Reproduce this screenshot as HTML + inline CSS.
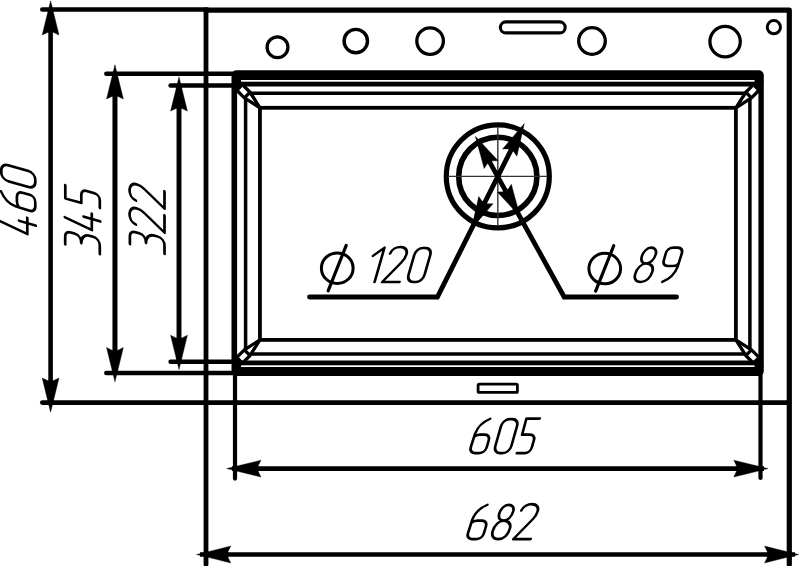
<!DOCTYPE html>
<html><head><meta charset="utf-8"><style>
html,body{margin:0;padding:0;background:#fff;width:800px;height:566px;overflow:hidden;font-family:"Liberation Sans",sans-serif}
svg{display:block}
</style></head><body>
<svg width="800" height="566" viewBox="0 0 800 566" stroke="#000" fill="none" role="img" aria-label="Sink drawing: 460, 345, 322, 605, 682, diameter 120, diameter 89">
<line x1="42.30" y1="9.40" x2="207.00" y2="9.40" stroke-width="4.5" stroke-linecap="round"/>
<polyline points="206.00,10.20 789.30,10.20 789.30,564.50" fill="none" stroke-width="5.2" stroke-linecap="round" stroke-linejoin="round"/>
<line x1="206.00" y1="10.00" x2="206.00" y2="564.50" stroke-width="4.8" stroke-linecap="round"/>
<line x1="42.30" y1="402.60" x2="789.30" y2="402.60" stroke-width="4.7" stroke-linecap="round"/>
<line x1="50.60" y1="9.00" x2="50.60" y2="403.00" stroke-width="4.6" stroke-linecap="butt"/>
<polygon points="50.60,0.80 55.22,19.61 59.00,35.00 53.60,32.40 47.60,32.40 42.20,35.00 45.98,19.61" fill="#000" stroke="#000" stroke-width="0.4" stroke-linejoin="round"/>
<polygon points="50.60,412.20 45.98,393.39 42.20,378.00 47.60,380.60 53.60,380.60 59.00,378.00 55.22,393.39" fill="#000" stroke="#000" stroke-width="0.4" stroke-linejoin="round"/>
<line x1="106.30" y1="73.80" x2="236.00" y2="73.80" stroke-width="4.5" stroke-linecap="round"/>
<line x1="106.30" y1="373.10" x2="236.00" y2="373.10" stroke-width="4.5" stroke-linecap="round"/>
<line x1="114.95" y1="74.00" x2="114.95" y2="373.00" stroke-width="5.0" stroke-linecap="butt"/>
<polygon points="114.95,64.80 119.57,83.61 123.35,99.00 117.95,96.40 111.95,96.40 106.55,99.00 110.33,83.61" fill="#000" stroke="#000" stroke-width="0.4" stroke-linejoin="round"/>
<polygon points="114.95,381.80 110.33,362.99 106.55,347.60 111.95,350.20 117.95,350.20 123.35,347.60 119.57,362.99" fill="#000" stroke="#000" stroke-width="0.4" stroke-linejoin="round"/>
<line x1="170.60" y1="85.40" x2="240.00" y2="85.40" stroke-width="4.5" stroke-linecap="round"/>
<line x1="170.60" y1="361.70" x2="240.00" y2="361.70" stroke-width="4.5" stroke-linecap="round"/>
<line x1="179.00" y1="85.00" x2="179.00" y2="362.00" stroke-width="4.9" stroke-linecap="butt"/>
<polygon points="179.00,76.90 183.62,95.71 187.40,111.10 182.00,108.50 176.00,108.50 170.60,111.10 174.38,95.71" fill="#000" stroke="#000" stroke-width="0.4" stroke-linejoin="round"/>
<polygon points="179.00,369.50 174.38,350.69 170.60,335.30 176.00,337.90 182.00,337.90 187.40,335.30 183.62,350.69" fill="#000" stroke="#000" stroke-width="0.4" stroke-linejoin="round"/>
<rect x="231.50" y="70.30" width="532.30" height="305.70" rx="5" fill="#000" stroke="none"/>
<rect x="237.10" y="80.00" width="521.30" height="287.00" rx="0" fill="#fff" stroke="none"/>
<rect x="236.00" y="78.50" width="5.00" height="4.50" rx="0" fill="#000" stroke="none"/>
<rect x="754.60" y="78.50" width="4.90" height="4.50" rx="0" fill="#000" stroke="none"/>
<rect x="236.00" y="364.20" width="5.00" height="4.80" rx="0" fill="#000" stroke="none"/>
<rect x="754.60" y="364.20" width="4.90" height="4.80" rx="0" fill="#000" stroke="none"/>
<rect x="237.00" y="81.70" width="521.40" height="4.80" rx="0" fill="#000" stroke="none"/>
<rect x="237.00" y="360.50" width="521.40" height="4.80" rx="0" fill="#000" stroke="none"/>
<rect x="259.95" y="107.8" width="475.95" height="232.10" fill="none" stroke-width="3.8"/>
<polyline points="259.95,107.80 250.05,92.24 242.41,84.61" fill="none" stroke-width="3.3" stroke-linecap="butt" stroke-linejoin="round"/>
<polyline points="259.95,107.80 244.39,97.90 236.76,90.26" fill="none" stroke-width="3.3" stroke-linecap="butt" stroke-linejoin="round"/>
<line x1="250.05" y1="92.24" x2="244.39" y2="97.90" stroke-width="3.3" stroke-linecap="butt"/>
<polygon points="242.41,84.61 236.76,90.26 233.95,81.80" fill="#000" stroke="#000" stroke-width="3.3" stroke-linejoin="round"/>
<polyline points="735.90,107.80 751.46,97.90 759.09,90.26" fill="none" stroke-width="3.3" stroke-linecap="butt" stroke-linejoin="round"/>
<polyline points="735.90,107.80 745.80,92.24 753.44,84.61" fill="none" stroke-width="3.3" stroke-linecap="butt" stroke-linejoin="round"/>
<line x1="751.46" y1="97.90" x2="745.80" y2="92.24" stroke-width="3.3" stroke-linecap="butt"/>
<polygon points="759.09,90.26 753.44,84.61 761.90,81.80" fill="#000" stroke="#000" stroke-width="3.3" stroke-linejoin="round"/>
<polyline points="259.95,339.90 244.39,349.80 236.76,357.44" fill="none" stroke-width="3.3" stroke-linecap="butt" stroke-linejoin="round"/>
<polyline points="259.95,339.90 250.05,355.46 242.41,363.09" fill="none" stroke-width="3.3" stroke-linecap="butt" stroke-linejoin="round"/>
<line x1="244.39" y1="349.80" x2="250.05" y2="355.46" stroke-width="3.3" stroke-linecap="butt"/>
<polygon points="236.76,357.44 242.41,363.09 233.95,365.90" fill="#000" stroke="#000" stroke-width="3.3" stroke-linejoin="round"/>
<polyline points="735.90,339.90 745.80,355.46 753.44,363.09" fill="none" stroke-width="3.3" stroke-linecap="butt" stroke-linejoin="round"/>
<polyline points="735.90,339.90 751.46,349.80 759.09,357.44" fill="none" stroke-width="3.3" stroke-linecap="butt" stroke-linejoin="round"/>
<line x1="745.80" y1="355.46" x2="751.46" y2="349.80" stroke-width="3.3" stroke-linecap="butt"/>
<polygon points="753.44,363.09 759.09,357.44 761.90,365.90" fill="#000" stroke="#000" stroke-width="3.3" stroke-linejoin="round"/>
<line x1="250.72" y1="93.30" x2="745.13" y2="93.30" stroke-width="3.5" stroke-linecap="butt"/>
<line x1="250.91" y1="354.10" x2="744.94" y2="354.10" stroke-width="3.5" stroke-linecap="butt"/>
<line x1="245.60" y1="98.67" x2="245.60" y2="349.03" stroke-width="3.5" stroke-linecap="butt"/>
<line x1="749.90" y1="98.89" x2="749.90" y2="348.81" stroke-width="3.5" stroke-linecap="butt"/>
<rect x="478.1" y="384.1" width="39.3" height="8.3" rx="1.2" fill="none" stroke-width="2.8"/>
<circle cx="277.5" cy="47.3" r="10.4" fill="none" stroke-width="3.3"/>
<circle cx="355.8" cy="41.1" r="11.7" fill="none" stroke-width="3.4"/>
<circle cx="430.1" cy="41.1" r="13.3" fill="none" stroke-width="3.3"/>
<circle cx="592.0" cy="41.0" r="13.3" fill="none" stroke-width="3.3"/>
<circle cx="725.1" cy="41.6" r="15.2" fill="none" stroke-width="3.3"/>
<circle cx="773.85" cy="27.2" r="6.6" fill="none" stroke-width="3.0"/>
<rect x="500.4" y="21.9" width="64.8" height="11.0" rx="5.5" fill="none" stroke-width="3.1"/>
<circle cx="497.8" cy="176.4" r="51.5" fill="none" stroke-width="5.2"/>
<circle cx="497.8" cy="176.4" r="39.1" fill="none" stroke-width="5.6"/>
<line x1="448" y1="176.4" x2="547" y2="176.4" stroke-width="1.4" stroke="#333"/>
<line x1="497.8" y1="127" x2="497.8" y2="226" stroke-width="1.4" stroke="#333"/>
<polyline points="519.81,132.53 437.40,297.00 309.50,297.00" fill="none" stroke-width="4.8" stroke-linecap="round" stroke-linejoin="miter"/>
<polygon points="524.30,123.60 520.23,141.50 516.89,156.14 513.59,151.57 508.23,148.88 502.60,148.95 512.36,137.54" fill="#000" stroke="#000" stroke-width="0.4" stroke-linejoin="round"/>
<polygon points="471.31,229.09 475.38,211.19 478.72,196.55 482.02,201.12 487.38,203.81 493.01,203.73 483.25,215.14" fill="#000" stroke="#000" stroke-width="0.4" stroke-linejoin="round"/>
<polyline points="480.27,145.04 564.20,297.00 676.60,297.00" fill="none" stroke-width="4.8" stroke-linecap="round" stroke-linejoin="miter"/>
<polygon points="475.40,136.30 487.92,149.72 498.16,160.71 492.53,160.87 487.28,163.79 484.18,168.50 480.23,154.01" fill="#000" stroke="#000" stroke-width="0.4" stroke-linejoin="round"/>
<polygon points="520.10,216.43 507.59,203.00 497.35,192.02 502.98,191.86 508.22,188.94 511.32,184.23 515.27,198.72" fill="#000" stroke="#000" stroke-width="0.4" stroke-linejoin="round"/>
<line x1="235.00" y1="374.00" x2="235.00" y2="478.60" stroke-width="4.2" stroke-linecap="round"/>
<line x1="760.50" y1="374.00" x2="760.50" y2="478.00" stroke-width="4.2" stroke-linecap="round"/>
<line x1="232.00" y1="468.60" x2="764.00" y2="468.60" stroke-width="4.8" stroke-linecap="butt"/>
<polygon points="226.70,468.60 245.51,463.98 260.90,460.20 258.30,465.60 258.30,471.60 260.90,477.00 245.51,473.22" fill="#000" stroke="#000" stroke-width="0.4" stroke-linejoin="round"/>
<polygon points="768.00,468.60 749.19,473.22 733.80,477.00 736.40,471.60 736.40,465.60 733.80,460.20 749.19,463.98" fill="#000" stroke="#000" stroke-width="0.4" stroke-linejoin="round"/>
<line x1="200.00" y1="554.50" x2="795.00" y2="554.50" stroke-width="4.4" stroke-linecap="butt"/>
<polygon points="196.50,554.50 215.31,549.88 230.70,546.10 228.10,551.50 228.10,557.50 230.70,562.90 215.31,559.12" fill="#000" stroke="#000" stroke-width="0.4" stroke-linejoin="round"/>
<polygon points="798.80,554.50 779.99,559.12 764.60,562.90 767.20,557.50 767.20,551.50 764.60,546.10 779.99,549.88" fill="#000" stroke="#000" stroke-width="0.4" stroke-linejoin="round"/>
<g role="img" aria-label="605">
<path d="M11.3,-34.2 C5.5,-31.5 1.2,-26.5 0.5,-19.5 L0.1,-6 C0,-2.5 2.5,0 6,0 H10.4 C13.9,0 16.1,-2.5 16.1,-6 V-12.5 C16.1,-16 13.9,-18.4 10.4,-18.4 H5.5 C3.2,-18.4 1.5,-17.5 0.4,-16" transform="translate(469.00,453.10) skewX(-16.0)" fill="none" stroke-width="2.7" stroke-linecap="round" stroke-linejoin="round"/>
<path d="M6.6,-34 H9.4 C13,-34 16,-31 16,-26.8 V-7.2 C16,-3 13,0 9.4,0 H6.6 C3,0 0,-3 0,-7.2 V-26.8 C0,-31 3,-34 6.6,-34 Z" transform="translate(493.30,453.10) skewX(-16.0)" fill="none" stroke-width="2.7" stroke-linecap="round" stroke-linejoin="round"/>
<path d="M16.3,-34.5 H2.9 L3.2,-18.5 H10.8 C14.2,-18.5 16.6,-16.3 16.6,-12.8 V-5.8 C16.6,-2.3 14.2,0 11.1,0 H3.3" transform="translate(513.60,453.10) skewX(-16.0)" fill="none" stroke-width="2.7" stroke-linecap="round" stroke-linejoin="round"/>
</g>
<g role="img" aria-label="682">
<path d="M11.3,-34.2 C5.5,-31.5 1.2,-26.5 0.5,-19.5 L0.1,-6 C0,-2.5 2.5,0 6,0 H10.4 C13.9,0 16.1,-2.5 16.1,-6 V-12.5 C16.1,-16 13.9,-18.4 10.4,-18.4 H5.5 C3.2,-18.4 1.5,-17.5 0.4,-16" transform="translate(466.20,539.10) skewX(-16.0)" fill="none" stroke-width="2.7" stroke-linecap="round" stroke-linejoin="round"/>
<path d="M8.2,-34.3 C12,-34.3 14.9,-31.5 14.9,-27.5 C14.9,-22.5 12,-18.5 8,-18.5 C4.2,-18.5 1.6,-21.5 1.6,-25.5 C1.6,-30.5 4.5,-34.3 8.2,-34.3 Z M8,-18.5 C13,-18.5 16.5,-15 16.5,-10.5 C16.5,-4 13,0 8,0 C3,0 0,-3.5 0,-8 C0,-14 3.5,-18.5 8,-18.5 Z" transform="translate(490.40,539.10) skewX(-16.0)" fill="none" stroke-width="2.7" stroke-linecap="round" stroke-linejoin="round"/>
<path d="M-0.2,-28.6 C0.5,-32.6 4,-35 8.4,-35 C12.8,-35 16.3,-32.2 16.3,-27.8 C16.3,-24.8 15.4,-22.3 13.8,-20.1 L0,0 H17.3" transform="translate(513.40,539.10) skewX(-16.0)" fill="none" stroke-width="2.7" stroke-linecap="round" stroke-linejoin="round"/>
</g>
<g role="img" aria-label="120">
<path d="M0,-26.2 L9,-34.3 V0" transform="translate(365.60,282.00) skewX(-16.0)" fill="none" stroke-width="2.7" stroke-linecap="round" stroke-linejoin="round"/>
<path d="M-0.2,-28.6 C0.5,-32.6 4,-35 8.4,-35 C12.8,-35 16.3,-32.2 16.3,-27.8 C16.3,-24.8 15.4,-22.3 13.8,-20.1 L0,0 H17.3" transform="translate(382.20,282.00) skewX(-16.0)" fill="none" stroke-width="2.7" stroke-linecap="round" stroke-linejoin="round"/>
<path d="M6.6,-34 H9.4 C13,-34 16,-31 16,-26.8 V-7.2 C16,-3 13,0 9.4,0 H6.6 C3,0 0,-3 0,-7.2 V-26.8 C0,-31 3,-34 6.6,-34 Z" transform="translate(406.50,282.00) skewX(-16.0)" fill="none" stroke-width="2.7" stroke-linecap="round" stroke-linejoin="round"/>
</g>
<g role="img" aria-label="89">
<path d="M8.2,-34.3 C12,-34.3 14.9,-31.5 14.9,-27.5 C14.9,-22.5 12,-18.5 8,-18.5 C4.2,-18.5 1.6,-21.5 1.6,-25.5 C1.6,-30.5 4.5,-34.3 8.2,-34.3 Z M8,-18.5 C13,-18.5 16.5,-15 16.5,-10.5 C16.5,-4 13,0 8,0 C3,0 0,-3.5 0,-8 C0,-14 3.5,-18.5 8,-18.5 Z" transform="translate(632.90,282.00) skewX(-16.0)" fill="none" stroke-width="2.7" stroke-linecap="round" stroke-linejoin="round"/>
<g transform="translate(657.50,282.00) skewX(-16.0)"><path d="M11.3,-34.2 C5.5,-31.5 1.2,-26.5 0.5,-19.5 L0.1,-6 C0,-2.5 2.5,0 6,0 H10.4 C13.9,0 16.1,-2.5 16.1,-6 V-12.5 C16.1,-16 13.9,-18.4 10.4,-18.4 H5.5 C3.2,-18.4 1.5,-17.5 0.4,-16" transform="matrix(-1,0,0,-1,16.2,-34.4)" fill="none" stroke-width="2.7" stroke-linecap="round" stroke-linejoin="round"/></g>
</g>
<g role="img" aria-label="460">
<path d="M5.3,-35 L0.2,-8 H16.5 M11.2,-16.3 V0.5" transform="translate(35.30,236.60) rotate(-90) skewX(-16.0)" fill="none" stroke-width="2.7" stroke-linecap="round" stroke-linejoin="round"/>
<path d="M11.3,-34.2 C5.5,-31.5 1.2,-26.5 0.5,-19.5 L0.1,-6 C0,-2.5 2.5,0 6,0 H10.4 C13.9,0 16.1,-2.5 16.1,-6 V-12.5 C16.1,-16 13.9,-18.4 10.4,-18.4 H5.5 C3.2,-18.4 1.5,-17.5 0.4,-16" transform="translate(35.30,212.50) rotate(-90) skewX(-16.0)" fill="none" stroke-width="2.7" stroke-linecap="round" stroke-linejoin="round"/>
<path d="M6.6,-34 H9.4 C13,-34 16,-31 16,-26.8 V-7.2 C16,-3 13,0 9.4,0 H6.6 C3,0 0,-3 0,-7.2 V-26.8 C0,-31 3,-34 6.6,-34 Z" transform="translate(35.30,189.00) rotate(-90) skewX(-16.0)" fill="none" stroke-width="2.7" stroke-linecap="round" stroke-linejoin="round"/>
</g>
<g role="img" aria-label="345">
<path d="M0.3,-34.6 H8.5 C11.8,-34.6 13.8,-32 13.8,-28.5 V-25 C13.8,-21.2 10.8,-18.6 6,-18.6 C11.5,-18.6 15.8,-15.5 15.8,-10 V-7 C15.8,-2.8 13,0 8.5,0 H0.4" transform="translate(99.80,254.50) rotate(-90) skewX(-16.0)" fill="none" stroke-width="2.7" stroke-linecap="round" stroke-linejoin="round"/>
<path d="M5.3,-35 L0.2,-8 H16.5 M11.2,-16.3 V0.5" transform="translate(99.80,232.50) rotate(-90) skewX(-16.0)" fill="none" stroke-width="2.7" stroke-linecap="round" stroke-linejoin="round"/>
<path d="M16.3,-34.5 H2.9 L3.2,-18.5 H10.8 C14.2,-18.5 16.6,-16.3 16.6,-12.8 V-5.8 C16.6,-2.3 14.2,0 11.1,0 H3.3" transform="translate(99.80,211.30) rotate(-90) skewX(-16.0)" fill="none" stroke-width="2.7" stroke-linecap="round" stroke-linejoin="round"/>
</g>
<g role="img" aria-label="322">
<path d="M0.3,-34.6 H8.5 C11.8,-34.6 13.8,-32 13.8,-28.5 V-25 C13.8,-21.2 10.8,-18.6 6,-18.6 C11.5,-18.6 15.8,-15.5 15.8,-10 V-7 C15.8,-2.8 13,0 8.5,0 H0.4" transform="translate(164.50,254.30) rotate(-90) skewX(-16.0)" fill="none" stroke-width="2.7" stroke-linecap="round" stroke-linejoin="round"/>
<path d="M-0.2,-28.6 C0.5,-32.6 4,-35 8.4,-35 C12.8,-35 16.3,-32.2 16.3,-27.8 C16.3,-24.8 15.4,-22.3 13.8,-20.1 L0,0 H17.3" transform="translate(164.50,232.60) rotate(-90) skewX(-16.0)" fill="none" stroke-width="2.7" stroke-linecap="round" stroke-linejoin="round"/>
<path d="M-0.2,-28.6 C0.5,-32.6 4,-35 8.4,-35 C12.8,-35 16.3,-32.2 16.3,-27.8 C16.3,-24.8 15.4,-22.3 13.8,-20.1 L0,0 H17.3" transform="translate(164.50,208.60) rotate(-90) skewX(-16.0)" fill="none" stroke-width="2.7" stroke-linecap="round" stroke-linejoin="round"/>
</g>
<g role="img" aria-label="&#216;">
<ellipse cx="337.25" cy="268.2" rx="15.85" ry="15.3" fill="none" stroke-width="3"/>
<line x1="346.20" y1="245.40" x2="328.15" y2="290.80" stroke-width="3.2" stroke-linecap="round"/>
</g>
<g role="img" aria-label="&#216;">
<ellipse cx="604.75" cy="268.55" rx="15.85" ry="15.3" fill="none" stroke-width="3"/>
<line x1="613.70" y1="245.75" x2="595.65" y2="291.15" stroke-width="3.2" stroke-linecap="round"/>
</g>
</svg>
</body></html>
